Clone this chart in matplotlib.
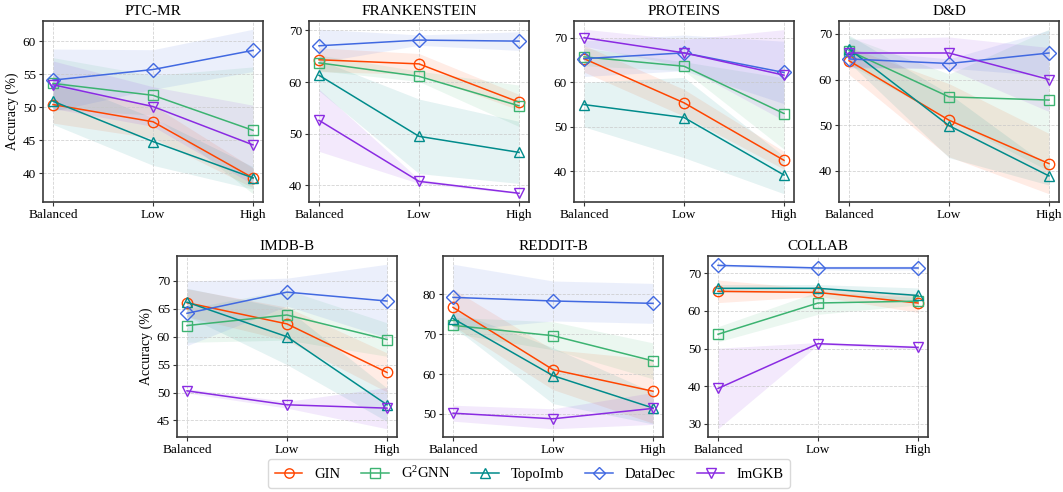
import numpy as np
import matplotlib
matplotlib.use("Agg")
import matplotlib.pyplot as plt
from matplotlib.ticker import MultipleLocator

plt.rcParams['font.family'] = ['Liberation Serif', 'DejaVu Serif']
plt.rcParams['mathtext.fontset'] = 'custom'
plt.rcParams['mathtext.rm'] = 'Liberation Serif'
plt.rcParams['mathtext.it'] = 'Liberation Serif:italic'

levels = ["Balanced", "Low", "High"]
methods = ["GIN", "G$^2$GNN", "TopoImb", "DataDec", "ImGKB"]
colors = ["#FF4500", "#3CB371", "#008B8B", "#4169E1", "#8A2BE2"]
markers = ["o", "s", "^", "D", "v"]

# mean values per dataset (rows follow `methods`)
ptc_mean = [[50.4, 47.8, 39.3], [53.6, 51.8, 46.5], [50.9, 44.8, 39.3], [54.1, 55.7, 58.6], [53.4, 50.1, 44.3]]
ptc_std = [[2.8, 2.5, 1.5], [3.9, 3.0, 9.6], [3.5, 3.6, 1.7], [4.7, 3.0, 3.2], [3.6, 3.0, 6.0]]

fra_mean = [[64.3, 63.5, 56.1], [63.7, 61.1, 55.4], [61.3, 49.5, 46.4], [67.0, 68.1, 67.9], [52.6, 40.8, 38.5]]
fra_std = [[2.3, 2.0, 1.5], [1.5, 1.0, 4.0], [3.0, 7.2, 6.0], [3.2, 1.0, 1.8], [6.0, 0.4, 0.1]]

pro_mean = [[65.3, 55.4, 42.5], [65.7, 63.6, 53.0], [55.0, 52.1, 39.2], [65.3, 66.6, 62.2], [70.0, 66.6, 61.6]]
pro_std = [[3.0, 3.0, 2.0], [2.0, 1.0, 8.0], [5.0, 9.0, 4.2], [4.0, 4.0, 7.0], [1.9, 3.0, 10.2]]

dd_mean = [[64.1, 51.1, 41.6], [66.3, 56.2, 55.5], [66.7, 49.9, 38.9], [64.5, 63.5, 65.8], [65.8, 65.8, 60.0]]
dd_std = [[3.0, 8.0, 6.6], [3.0, 5.0, 15.5], [3.0, 7.0, 2.0], [2.0, 1.0, 5.0], [3.0, 3.5, 7.0]]

imdb_mean = [[66.1, 62.3, 53.6], [62.0, 63.9, 59.5], [66.2, 60.0, 47.8], [64.2, 68.0, 66.4], [50.3, 47.8, 47.2]]
imdb_std = [[2.5, 3.0, 3.5], [3.0, 4.5, 3.0], [2.5, 5.0, 3.0], [5.8, 2.5, 6.6], [0.4, 0.6, 3.7]]

red_mean = [[76.7, 61.1, 55.7], [72.2, 69.6, 63.3], [73.9, 59.6, 51.5], [79.2, 78.3, 77.7], [50.2, 48.8, 51.4]]
red_std = [[4.6, 5.0, 8.0], [2.0, 3.5, 4.5], [2.0, 7.0, 4.0], [8.3, 5.0, 5.0], [2.0, 2.5, 4.0]]

col_mean = [[65.2, 64.9, 62.1], [53.8, 62.1, 62.6], [66.0, 66.0, 64.1], [72.1, 71.4, 71.4], [39.4, 51.3, 50.3]]
col_std = [[3.0, 1.0, 2.5], [2.0, 3.0, 1.0], [1.0, 1.0, 2.0], [0.3, 0.5, 0.5], [10.7, 0.3, 0.5]]

datasets = [
    ("PTC-MR", ptc_mean, ptc_std),
    ("FRANKENSTEIN", fra_mean, fra_std),
    ("PROTEINS", pro_mean, pro_std),
    ("D&D", dd_mean, dd_std),
    ("IMDB-B", imdb_mean, imdb_std),
    ("REDDIT-B", red_mean, red_std),
    ("COLLAB", col_mean, col_std),
]
tick_steps = [5, 10, 10, 10, 5, 10, 10]

W, H = 1063, 492
fig = plt.figure(figsize=(W / 100, H / 100), dpi=100)

# axes boxes in pixels: (left, top, width, height)
boxes = [(43, 21, 220, 181), (309, 21, 220, 181), (574, 21, 220, 181), (839, 21, 220, 181),
         (177, 256, 220, 181), (443, 256, 220, 181), (708, 256, 220, 181)]

x = np.arange(len(levels))
handles = []
for i, (name, means, stds) in enumerate(datasets):
    l, t, w, h = boxes[i]
    ax = fig.add_axes([l / W, 1 - (t + h) / H, w / W, h / H])
    for j, m in enumerate(methods):
        mu = np.array(means[j])
        sd = np.array(stds[j])
        ax.fill_between(x, mu - sd, mu + sd, color=colors[j], alpha=0.1, linewidth=0)
        ln, = ax.plot(x, mu, color=colors[j], marker=markers[j], markersize=7.5 if markers[j] != 'D' else 7,
                      markerfacecolor='none', markeredgewidth=1.0, linewidth=1.1, label=m)
        if i == 0:
            handles.append(ln)
    ax.set_xticks(x)
    ax.set_xticklabels(levels)
    ax.yaxis.set_major_locator(MultipleLocator(tick_steps[i]))
    ax.set_title(name, fontsize=11, pad=4)
    ax.grid(True, linestyle='--', linewidth=0.6, color='#c8c8c8', alpha=0.8)
    ax.tick_params(labelsize=9.5, length=3, width=0.8, color='#333333', pad=2)
    for s in ax.spines.values():
        s.set_color('#3a3a3a')
        s.set_linewidth(1.2)
    if i in (0, 4):
        ax.set_ylabel("Accuracy (%)", fontsize=10, labelpad=3)

leg = fig.legend(handles, methods, loc='center', bbox_to_anchor=(529 / W, 1 - 473.5 / H), ncol=5,
                 fontsize=10.5, frameon=True, fancybox=True, edgecolor='#d0d0d0',
                 columnspacing=1.45, handlelength=1.9, handletextpad=0.8, borderpad=0.45,
                 markerscale=0.9)

fig.savefig("out.png", dpi=100)
